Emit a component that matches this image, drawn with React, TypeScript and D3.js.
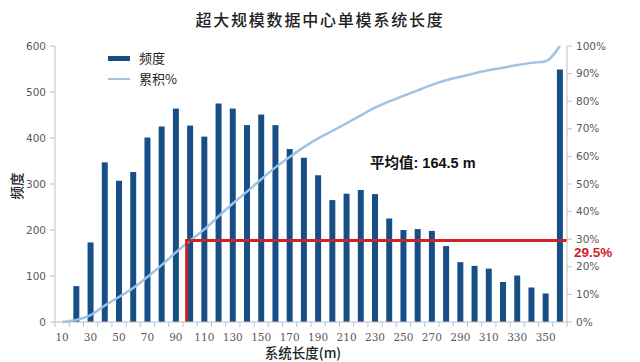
import React, { useEffect, useRef } from "react"
import * as d3 from "d3"

const categories = [10, 20, 30, 40, 50, 60, 70, 80, 90, 100, 110, 120, 130, 140, 150, 160, 170, 180,
    190, 200, 210, 220, 230, 240, 250, 260, 270, 280, 290, 300, 310, 320, 330, 340, 350, 360]
const frequency = [0, 78, 173, 347, 307, 326, 401, 425, 464, 427, 403, 475, 464, 428, 451, 428, 376, 357,
    319, 265, 279, 287, 278, 225, 200, 202, 198, 165, 130, 122, 116, 87, 101, 75, 62, 549]
const leftTicks = [0, 100, 200, 300, 400, 500, 600]
const rightTicks = [0, 0.1, 0.2, 0.3, 0.4, 0.5, 0.6, 0.7, 0.8, 0.9, 1]
const xLabels = [10, 30, 50, 70, 90, 110, 130, 150, 170, 190, 210, 230, 250, 270, 290, 310, 330, 350]
const markCategory = 100
const markShare = 0.295
const meanText = "平均值: 164.5 m"

const W = 640
const H = 362
const BAR = "#174E86"
const LINE = "#9DC3E6"
const RED = "#CC2229"
const AXIS = "#BFBFBF"
const LABEL = "#595959"

export default function App() {
    const ref = useRef<SVGSVGElement>(null)

    useEffect(() => {
        const svg = d3.select(ref.current)
        svg.selectAll("*").remove()

        const left = 55, right = 567, top = 46, bottom = 322
        const x = d3.scaleBand<number>().domain(categories).range([left, right]).paddingInner(0.58).paddingOuter(0.29)
        const step = (right - left) / categories.length
        const y = d3.scaleLinear().domain([0, 600]).range([bottom, top])
        const y2 = d3.scaleLinear().domain([0, 1]).range([bottom, top])

        const total = d3.sum(frequency)
        const cumulative = d3.cumsum(frequency).map(v => v / total)

        // title
        svg.append("text")
            .attr("x", 320).attr("y", 26)
            .attr("text-anchor", "middle")
            .attr("font-family", "'Noto Sans CJK SC', sans-serif")
            .attr("font-size", 16).attr("font-weight", 500)
            .attr("letter-spacing", 1.8)
            .attr("fill", "#222")
            .text("超大规模数据中心单模系统长度")

        // bars
        svg.append("g")
            .selectAll("rect")
            .data(frequency)
            .enter()
            .append("rect")
            .attr("x", (d, i) => x(categories[i])!)
            .attr("y", d => y(d))
            .attr("width", x.bandwidth())
            .attr("height", d => bottom - y(d))
            .attr("fill", BAR)

        // cumulative line
        const line = d3.line<number>()
            .x((d, i) => x(categories[i])! + x.bandwidth() / 2)
            .y(d => y2(d))
            .curve(d3.curveMonotoneX)
        svg.append("path")
            .attr("d", line(cumulative))
            .attr("fill", "none")
            .attr("stroke", LINE)
            .attr("stroke-width", 2.5)

        // red marker
        const mx = x(markCategory)! - 0.5
        svg.append("path")
            .attr("d", `M${mx},${bottom}V${y2(markShare)}H${right}`)
            .attr("fill", "none")
            .attr("stroke", RED)
            .attr("stroke-width", 3)
        svg.append("text")
            .attr("x", right + 7).attr("y", y2(markShare) + 16.5)
            .attr("font-family", "'Liberation Sans', Arial, sans-serif")
            .attr("font-size", 13.5).attr("font-weight", "bold")
            .attr("fill", RED)
            .text(`${(markShare * 100).toFixed(1)}%`)

        svg.append("text")
            .attr("x", 370).attr("y", 168)
            .attr("font-family", "'Liberation Sans', 'Noto Sans CJK SC', sans-serif")
            .attr("font-size", 14.5).attr("font-weight", "bold")
            .attr("fill", "#111")
            .text(meanText)

        // left axis
        const gl = svg.append("g")
        gl.append("line").attr("x1", left).attr("x2", left).attr("y1", top).attr("y2", bottom)
            .attr("stroke", AXIS)
        gl.selectAll(".t").data(leftTicks).enter().append("line")
            .attr("x1", left - 5).attr("x2", left).attr("y1", d => y(d)).attr("y2", d => y(d))
            .attr("stroke", AXIS)
        gl.selectAll("text").data(leftTicks).enter().append("text")
            .attr("x", left - 9).attr("y", d => y(d) + 4)
            .attr("text-anchor", "end")
            .attr("font-family", "'DejaVu Sans', sans-serif").attr("font-size", 10.5)
            .attr("fill", LABEL)
            .text(d => d)

        // right axis
        const gr = svg.append("g")
        gr.append("line").attr("x1", right).attr("x2", right).attr("y1", top).attr("y2", bottom)
            .attr("stroke", AXIS)
        gr.selectAll(".t").data(rightTicks).enter().append("line")
            .attr("x1", right).attr("x2", right + 5).attr("y1", d => y2(d)).attr("y2", d => y2(d))
            .attr("stroke", AXIS)
        gr.selectAll("text").data(rightTicks).enter().append("text")
            .attr("x", right + 9).attr("y", d => y2(d) + 3.5)
            .attr("font-family", "'DejaVu Sans', sans-serif").attr("font-size", 10.5)
            .attr("fill", LABEL)
            .text(d => d3.format(".0%")(d))

        // x axis
        const gx = svg.append("g")
        gx.append("line").attr("x1", left).attr("x2", right).attr("y1", bottom).attr("y2", bottom)
            .attr("stroke", AXIS)
        gx.selectAll(".t").data(d3.range(categories.length + 1)).enter().append("line")
            .attr("x1", i => left + i * step).attr("x2", i => left + i * step)
            .attr("y1", bottom).attr("y2", bottom + 5)
            .attr("stroke", AXIS)
        gx.selectAll("text").data(xLabels).enter().append("text")
            .attr("x", d => x(d)! + x.bandwidth() / 2).attr("y", bottom + 19)
            .attr("text-anchor", "middle")
            .attr("font-family", "'DejaVu Serif', serif").attr("font-size", 10.5)
            .attr("fill", LABEL)
            .text(d => d)

        // axis titles
        svg.append("text")
            .attr("x", 303).attr("y", 358)
            .attr("text-anchor", "middle")
            .attr("font-family", "'Noto Sans CJK SC', sans-serif")
            .attr("font-size", 13.5).attr("font-weight", 500)
            .attr("fill", "#222")
            .text("系统长度(m)")
        svg.append("text")
            .attr("transform", "translate(22,186) rotate(-90)")
            .attr("text-anchor", "middle")
            .attr("font-family", "'Noto Sans CJK SC', sans-serif")
            .attr("font-size", 13.5).attr("font-weight", 500)
            .attr("fill", "#222")
            .text("频度")

        // legend
        const lg = svg.append("g")
        lg.append("rect").attr("x", 108).attr("y", 56).attr("width", 22).attr("height", 5).attr("fill", BAR)
        lg.append("line").attr("x1", 108).attr("x2", 130).attr("y1", 79).attr("y2", 79)
            .attr("stroke", LINE).attr("stroke-width", 2)
        lg.selectAll("text").data(["频度", "累积%"]).enter().append("text")
            .attr("x", 139).attr("y", (d, i) => 63 + i * 21)
            .attr("font-family", "'Noto Sans CJK SC', sans-serif")
            .attr("font-size", 13)
            .attr("fill", "#222")
            .text(d => d)
    }, [])

    return (
        <svg ref={ref} width={W} height={H}
            style={{ position: "absolute", left: 0, top: 0, background: "#fff", display: "block" }} />
    )
}
